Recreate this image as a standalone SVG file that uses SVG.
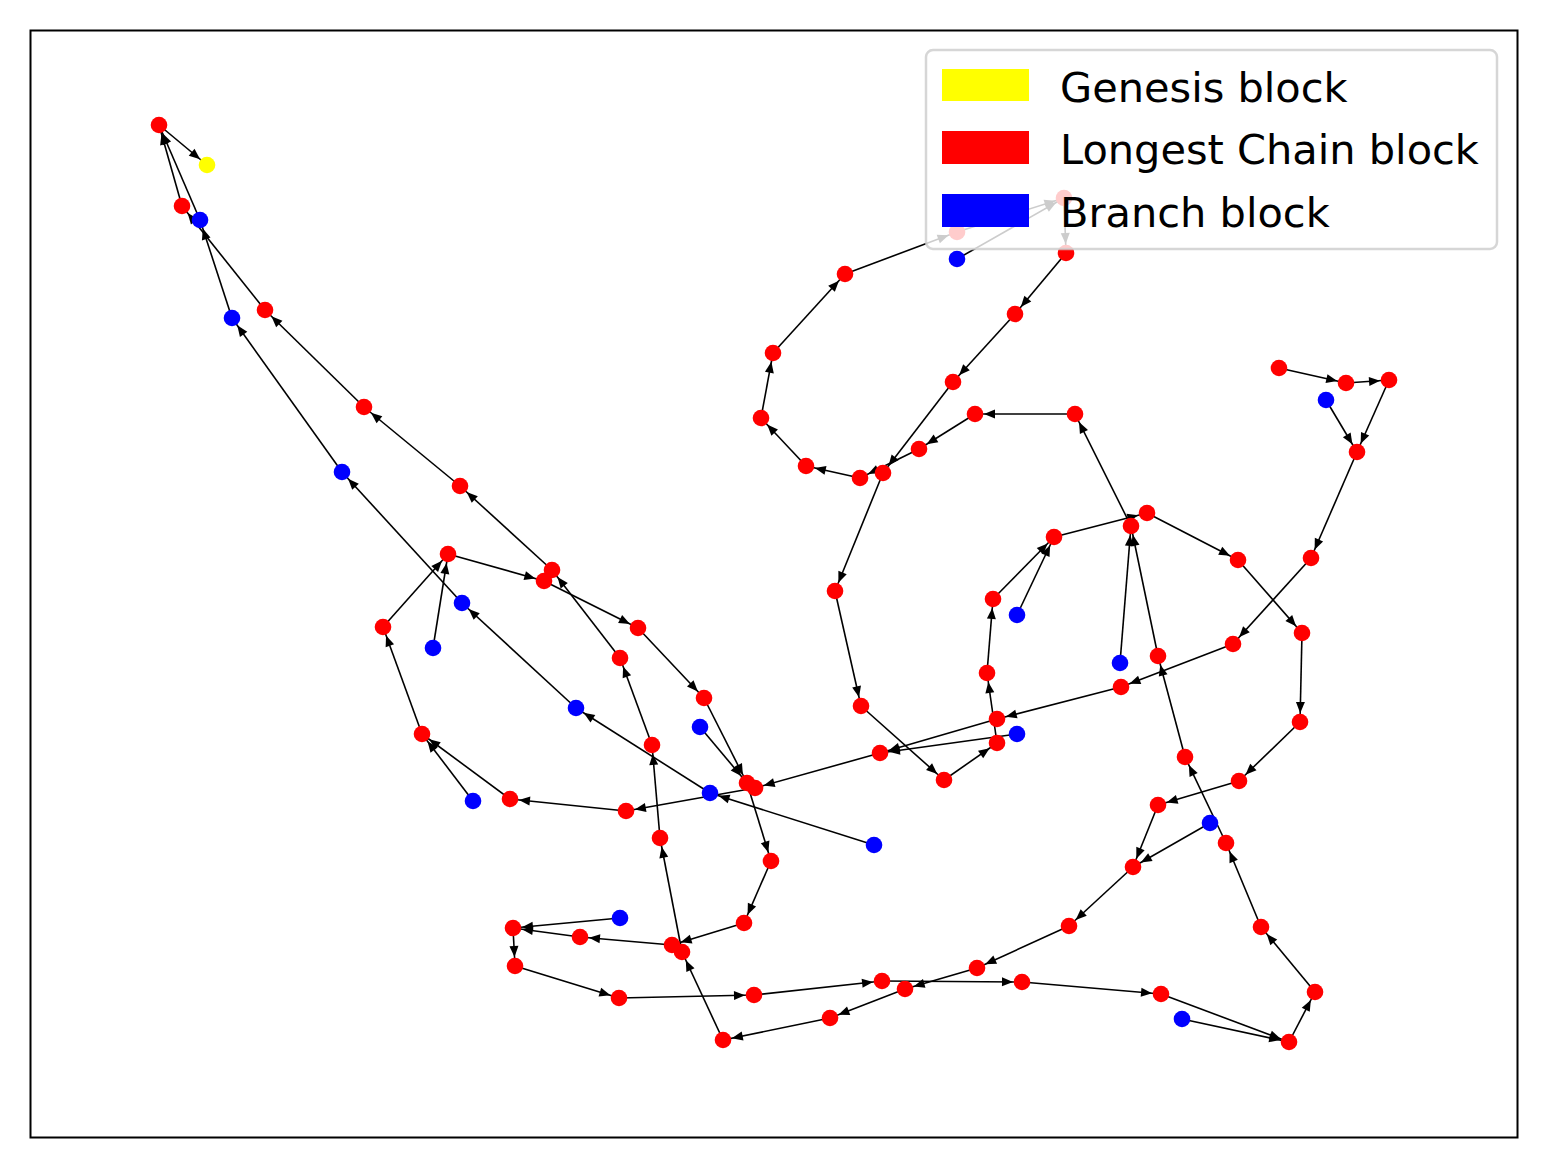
<svg xmlns="http://www.w3.org/2000/svg" width="1548" height="1168" viewBox="0 0 1548 1168">
<style>
.e{stroke:#000;stroke-width:1.6;marker-end:url(#ah)}
.r{fill:#ff0000}
.b{fill:#0000ff}
.y{fill:#ffff00}
.lt{font-family:"DejaVu Sans","Liberation Sans",sans-serif;font-size:41.5px;fill:#000}
</style>
<defs>
<marker id="ah" markerUnits="userSpaceOnUse" markerWidth="24" markerHeight="12" refX="20" refY="0" orient="auto" overflow="visible">
<path d="M0,-4.5 L11,0 L0,4.5 z" fill="#000"/>
</marker>
</defs>
<rect x="0" y="0" width="1548" height="1168" fill="#fff"/>
<g id="edges">
<line class="e" x1="159" y1="125" x2="207" y2="165"/>
<line class="e" x1="182" y1="206" x2="159" y2="125"/>
<line class="e" x1="200" y1="220" x2="159" y2="125"/>
<line class="e" x1="265" y1="310" x2="182" y2="206"/>
<line class="e" x1="232" y1="318" x2="200" y2="220"/>
<line class="e" x1="364" y1="407" x2="265" y2="310"/>
<line class="e" x1="342" y1="472" x2="232" y2="318"/>
<line class="e" x1="460" y1="486" x2="364" y2="407"/>
<line class="e" x1="462" y1="603" x2="342" y2="472"/>
<line class="e" x1="552" y1="570" x2="460" y2="486"/>
<line class="e" x1="448" y1="554" x2="544" y2="581"/>
<line class="e" x1="383" y1="627" x2="448" y2="554"/>
<line class="e" x1="433" y1="648" x2="448" y2="554"/>
<line class="e" x1="544" y1="581" x2="638" y2="628"/>
<line class="e" x1="620" y1="658" x2="552" y2="570"/>
<line class="e" x1="638" y1="628" x2="704" y2="698"/>
<line class="e" x1="704" y1="698" x2="747" y2="783"/>
<line class="e" x1="700" y1="727" x2="747" y2="783"/>
<line class="e" x1="710" y1="793" x2="576" y2="708"/>
<line class="e" x1="576" y1="708" x2="462" y2="603"/>
<line class="e" x1="755" y1="788" x2="626" y2="811"/>
<line class="e" x1="874" y1="845" x2="710" y2="793"/>
<line class="e" x1="626" y1="811" x2="510" y2="799"/>
<line class="e" x1="510" y1="799" x2="422" y2="734"/>
<line class="e" x1="473" y1="801" x2="422" y2="734"/>
<line class="e" x1="422" y1="734" x2="383" y2="627"/>
<line class="e" x1="652" y1="745" x2="620" y2="658"/>
<line class="e" x1="660" y1="838" x2="652" y2="745"/>
<line class="e" x1="747" y1="783" x2="771" y2="861"/>
<line class="e" x1="880" y1="753" x2="755" y2="788"/>
<line class="e" x1="682" y1="952" x2="660" y2="838"/>
<line class="e" x1="744" y1="923" x2="672" y2="945"/>
<line class="e" x1="672" y1="945" x2="580" y2="937"/>
<line class="e" x1="580" y1="937" x2="513" y2="928"/>
<line class="e" x1="620" y1="918" x2="513" y2="928"/>
<line class="e" x1="513" y1="928" x2="515" y2="966"/>
<line class="e" x1="515" y1="966" x2="619" y2="998"/>
<line class="e" x1="619" y1="998" x2="754" y2="995"/>
<line class="e" x1="754" y1="995" x2="882" y2="981"/>
<line class="e" x1="905" y1="989" x2="830" y2="1018"/>
<line class="e" x1="830" y1="1018" x2="723" y2="1040"/>
<line class="e" x1="723" y1="1040" x2="682" y2="952"/>
<line class="e" x1="771" y1="861" x2="744" y2="923"/>
<line class="e" x1="861" y1="706" x2="944" y2="780"/>
<line class="e" x1="845" y1="274" x2="957" y2="232"/>
<line class="e" x1="957" y1="232" x2="1064" y2="198"/>
<line class="e" x1="957" y1="259" x2="1064" y2="198"/>
<line class="e" x1="1064" y1="198" x2="1066" y2="253"/>
<line class="e" x1="1066" y1="253" x2="1015" y2="314"/>
<line class="e" x1="1015" y1="314" x2="953" y2="382"/>
<line class="e" x1="773" y1="353" x2="845" y2="274"/>
<line class="e" x1="761" y1="418" x2="773" y2="353"/>
<line class="e" x1="806" y1="466" x2="761" y2="418"/>
<line class="e" x1="860" y1="478" x2="806" y2="466"/>
<line class="e" x1="919" y1="449" x2="860" y2="478"/>
<line class="e" x1="953" y1="382" x2="883" y2="473"/>
<line class="e" x1="1075" y1="414" x2="975" y2="414"/>
<line class="e" x1="975" y1="414" x2="919" y2="449"/>
<line class="e" x1="883" y1="473" x2="835" y2="591"/>
<line class="e" x1="835" y1="591" x2="861" y2="706"/>
<line class="e" x1="944" y1="780" x2="997" y2="743"/>
<line class="e" x1="997" y1="743" x2="987" y2="673"/>
<line class="e" x1="997" y1="719" x2="880" y2="753"/>
<line class="e" x1="1017" y1="734" x2="880" y2="753"/>
<line class="e" x1="987" y1="673" x2="993" y2="599"/>
<line class="e" x1="993" y1="599" x2="1054" y2="537"/>
<line class="e" x1="1017" y1="615" x2="1054" y2="537"/>
<line class="e" x1="1054" y1="537" x2="1147" y2="513"/>
<line class="e" x1="1131" y1="526" x2="1075" y2="414"/>
<line class="e" x1="1120" y1="663" x2="1131" y2="526"/>
<line class="e" x1="1158" y1="656" x2="1131" y2="526"/>
<line class="e" x1="1147" y1="513" x2="1238" y2="560"/>
<line class="e" x1="1238" y1="560" x2="1302" y2="633"/>
<line class="e" x1="1302" y1="633" x2="1300" y2="722"/>
<line class="e" x1="1300" y1="722" x2="1239" y2="781"/>
<line class="e" x1="1239" y1="781" x2="1158" y2="805"/>
<line class="e" x1="1279" y1="368" x2="1346" y2="383"/>
<line class="e" x1="1346" y1="383" x2="1389" y2="380"/>
<line class="e" x1="1389" y1="380" x2="1357" y2="452"/>
<line class="e" x1="1326" y1="400" x2="1357" y2="452"/>
<line class="e" x1="1357" y1="452" x2="1311" y2="558"/>
<line class="e" x1="1311" y1="558" x2="1233" y2="644"/>
<line class="e" x1="1233" y1="644" x2="1121" y2="687"/>
<line class="e" x1="1121" y1="687" x2="997" y2="719"/>
<line class="e" x1="1185" y1="757" x2="1158" y2="656"/>
<line class="e" x1="1226" y1="843" x2="1185" y2="757"/>
<line class="e" x1="1210" y1="823" x2="1133" y2="867"/>
<line class="e" x1="1158" y1="805" x2="1133" y2="867"/>
<line class="e" x1="1133" y1="867" x2="1069" y2="926"/>
<line class="e" x1="1069" y1="926" x2="977" y2="968"/>
<line class="e" x1="977" y1="968" x2="905" y2="989"/>
<line class="e" x1="882" y1="981" x2="1022" y2="982"/>
<line class="e" x1="1022" y1="982" x2="1161" y2="994"/>
<line class="e" x1="1161" y1="994" x2="1289" y2="1042"/>
<line class="e" x1="1182" y1="1019" x2="1289" y2="1042"/>
<line class="e" x1="1289" y1="1042" x2="1315" y2="992"/>
<line class="e" x1="1315" y1="992" x2="1261" y2="927"/>
<line class="e" x1="1261" y1="927" x2="1226" y2="843"/>
</g>
<g id="G"><circle class="y" cx="207" cy="165" r="8.3"/></g>
<g id="A1"><circle class="r" cx="159" cy="125" r="8.3"/></g>
<g id="A2"><circle class="r" cx="182" cy="206" r="8.3"/></g>
<g id="A3"><circle class="r" cx="265" cy="310" r="8.3"/></g>
<g id="A4"><circle class="r" cx="364" cy="407" r="8.3"/></g>
<g id="A5"><circle class="r" cx="460" cy="486" r="8.3"/></g>
<g id="A8"><circle class="r" cx="544" cy="581" r="8.3"/></g>
<g id="A6"><circle class="r" cx="552" cy="570" r="8.3"/></g>
<g id="A7"><circle class="r" cx="448" cy="554" r="8.3"/></g>
<g id="A9"><circle class="r" cx="383" cy="627" r="8.3"/></g>
<g id="A10"><circle class="r" cx="638" cy="628" r="8.3"/></g>
<g id="A11"><circle class="r" cx="620" cy="658" r="8.3"/></g>
<g id="A12"><circle class="r" cx="704" cy="698" r="8.3"/></g>
<g id="A14"><circle class="r" cx="747" cy="783" r="8.3"/></g>
<g id="A15"><circle class="r" cx="755" cy="788" r="8.3"/></g>
<g id="A17"><circle class="r" cx="626" cy="811" r="8.3"/></g>
<g id="A18"><circle class="r" cx="510" cy="799" r="8.3"/></g>
<g id="A19"><circle class="r" cx="422" cy="734" r="8.3"/></g>
<g id="A20"><circle class="r" cx="652" cy="745" r="8.3"/></g>
<g id="A21"><circle class="r" cx="660" cy="838" r="8.3"/></g>
<g id="A22"><circle class="r" cx="771" cy="861" r="8.3"/></g>
<g id="C1"><circle class="r" cx="672" cy="945" r="8.3"/></g>
<g id="C2"><circle class="r" cx="682" cy="952" r="8.3"/></g>
<g id="A25"><circle class="r" cx="744" cy="923" r="8.3"/></g>
<g id="A26"><circle class="r" cx="580" cy="937" r="8.3"/></g>
<g id="A27"><circle class="r" cx="513" cy="928" r="8.3"/></g>
<g id="A28"><circle class="r" cx="515" cy="966" r="8.3"/></g>
<g id="A29"><circle class="r" cx="619" cy="998" r="8.3"/></g>
<g id="A30"><circle class="r" cx="754" cy="995" r="8.3"/></g>
<g id="A31"><circle class="r" cx="882" cy="981" r="8.3"/></g>
<g id="A32"><circle class="r" cx="830" cy="1018" r="8.3"/></g>
<g id="A33"><circle class="r" cx="905" cy="989" r="8.3"/></g>
<g id="A34"><circle class="r" cx="723" cy="1040" r="8.3"/></g>
<g id="A36"><circle class="r" cx="944" cy="780" r="8.3"/></g>
<g id="A37"><circle class="r" cx="845" cy="274" r="8.3"/></g>
<g id="A38"><circle class="r" cx="1066" cy="253" r="8.3"/></g>
<g id="A39"><circle class="r" cx="1015" cy="314" r="8.3"/></g>
<g id="A40"><circle class="r" cx="773" cy="353" r="8.3"/></g>
<g id="A41"><circle class="r" cx="761" cy="418" r="8.3"/></g>
<g id="A42"><circle class="r" cx="806" cy="466" r="8.3"/></g>
<g id="A43"><circle class="r" cx="860" cy="478" r="8.3"/></g>
<g id="A44"><circle class="r" cx="883" cy="473" r="8.3"/></g>
<g id="A45"><circle class="r" cx="953" cy="382" r="8.3"/></g>
<g id="A46"><circle class="r" cx="975" cy="414" r="8.3"/></g>
<g id="A47"><circle class="r" cx="1075" cy="414" r="8.3"/></g>
<g id="A48"><circle class="r" cx="919" cy="449" r="8.3"/></g>
<g id="A49"><circle class="r" cx="835" cy="591" r="8.3"/></g>
<g id="A51"><circle class="r" cx="861" cy="706" r="8.3"/></g>
<g id="A52"><circle class="r" cx="997" cy="743" r="8.3"/></g>
<g id="A53"><circle class="r" cx="997" cy="719" r="8.3"/></g>
<g id="A54"><circle class="r" cx="987" cy="673" r="8.3"/></g>
<g id="A55"><circle class="r" cx="880" cy="753" r="8.3"/></g>
<g id="A56"><circle class="r" cx="993" cy="599" r="8.3"/></g>
<g id="A57"><circle class="r" cx="1054" cy="537" r="8.3"/></g>
<g id="A58"><circle class="r" cx="1131" cy="526" r="8.3"/></g>
<g id="A59"><circle class="r" cx="1147" cy="513" r="8.3"/></g>
<g id="A60"><circle class="r" cx="1158" cy="656" r="8.3"/></g>
<g id="A61"><circle class="r" cx="1238" cy="560" r="8.3"/></g>
<g id="A62"><circle class="r" cx="1302" cy="633" r="8.3"/></g>
<g id="A63"><circle class="r" cx="1300" cy="722" r="8.3"/></g>
<g id="A64"><circle class="r" cx="1239" cy="781" r="8.3"/></g>
<g id="A65"><circle class="r" cx="1158" cy="805" r="8.3"/></g>
<g id="A66"><circle class="r" cx="1279" cy="368" r="8.3"/></g>
<g id="A67"><circle class="r" cx="1346" cy="383" r="8.3"/></g>
<g id="A68"><circle class="r" cx="1389" cy="380" r="8.3"/></g>
<g id="A69"><circle class="r" cx="1357" cy="452" r="8.3"/></g>
<g id="A70"><circle class="r" cx="1311" cy="558" r="8.3"/></g>
<g id="A71"><circle class="r" cx="1233" cy="644" r="8.3"/></g>
<g id="A72"><circle class="r" cx="1121" cy="687" r="8.3"/></g>
<g id="A74"><circle class="r" cx="1185" cy="757" r="8.3"/></g>
<g id="A75"><circle class="r" cx="1226" cy="843" r="8.3"/></g>
<g id="A77"><circle class="r" cx="1133" cy="867" r="8.3"/></g>
<g id="A78"><circle class="r" cx="1069" cy="926" r="8.3"/></g>
<g id="A79"><circle class="r" cx="977" cy="968" r="8.3"/></g>
<g id="A80"><circle class="r" cx="1022" cy="982" r="8.3"/></g>
<g id="A81"><circle class="r" cx="1161" cy="994" r="8.3"/></g>
<g id="A82"><circle class="r" cx="1289" cy="1042" r="8.3"/></g>
<g id="A83"><circle class="r" cx="1315" cy="992" r="8.3"/></g>
<g id="A84"><circle class="r" cx="1261" cy="927" r="8.3"/></g>
<g id="P1"><circle class="r" cx="957" cy="232" r="8.3"/></g>
<g id="P2"><circle class="r" cx="1064" cy="198" r="8.3"/></g>
<g id="B1"><circle class="b" cx="200" cy="220" r="8.3"/></g>
<g id="B2"><circle class="b" cx="232" cy="318" r="8.3"/></g>
<g id="B3"><circle class="b" cx="342" cy="472" r="8.3"/></g>
<g id="B4"><circle class="b" cx="462" cy="603" r="8.3"/></g>
<g id="B5"><circle class="b" cx="433" cy="648" r="8.3"/></g>
<g id="B6"><circle class="b" cx="700" cy="727" r="8.3"/></g>
<g id="B7"><circle class="b" cx="710" cy="793" r="8.3"/></g>
<g id="B8"><circle class="b" cx="576" cy="708" r="8.3"/></g>
<g id="B9"><circle class="b" cx="874" cy="845" r="8.3"/></g>
<g id="B10"><circle class="b" cx="473" cy="801" r="8.3"/></g>
<g id="B11"><circle class="b" cx="620" cy="918" r="8.3"/></g>
<g id="B12"><circle class="b" cx="1017" cy="734" r="8.3"/></g>
<g id="B13"><circle class="b" cx="1017" cy="615" r="8.3"/></g>
<g id="B14"><circle class="b" cx="1120" cy="663" r="8.3"/></g>
<g id="B15"><circle class="b" cx="1326" cy="400" r="8.3"/></g>
<g id="B16"><circle class="b" cx="1210" cy="823" r="8.3"/></g>
<g id="B17"><circle class="b" cx="1182" cy="1019" r="8.3"/></g>
<g id="B18"><circle class="b" cx="957" cy="259" r="8.3"/></g>
<g id="legend">
<rect x="926" y="50" width="571" height="199" rx="7" fill="#ffffff" fill-opacity="0.8" stroke="#cccccc" stroke-opacity="0.8" stroke-width="2.5"/>
<rect x="942" y="69" width="87" height="32" class="y"/>
<rect x="942" y="131" width="87" height="33" class="r"/>
<rect x="942" y="194" width="87" height="33" class="b"/>
<text class="lt" x="1060" y="102">Genesis block</text>
<text class="lt" x="1060" y="164">Longest Chain block</text>
<text class="lt" x="1060" y="227">Branch block</text>
</g>
<rect id="frame" x="30.5" y="30.5" width="1487" height="1107" fill="none" stroke="#000" stroke-width="2"/>
</svg>
